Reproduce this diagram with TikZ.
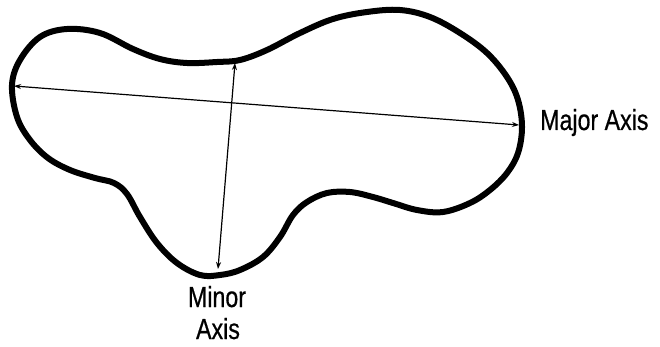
\documentclass[tikz,border=0pt]{standalone}
\usepackage{fontspec}
\setmainfont{Liberation Sans}[FakeStretch=0.8, FakeBold=0.6]
\usetikzlibrary{arrows.meta, positioning}

\begin{document}
\begin{tikzpicture}[
    x=1pt, y=-1pt,
    outline/.style={line width=6pt, line join=round},
    axisline/.style={line width=1.2pt, {Stealth[length=7pt,width=5pt]}-{Stealth[length=7pt,width=5pt]}},
    lbl/.style={font=\fontsize{29}{32}\selectfont, inner sep=0pt}
]
\useasboundingbox (0,0) rectangle (660,347);
\draw[outline] plot[smooth cycle, tension=0.6] coordinates {
  (12,85) (20,60) (40,37) (67,29) (100,33) (133,49) (160,59) (187,63)
  (217,62) (240,60) (267,50) (300,33) (333,19) (367,12) (400,10) (430,17)
  (460,33) (487,53) (507,77) (518,100) (522,127) (518,153) (507,173)
  (490,190) (470,203) (443,212) (417,210) (393,203) (373,197) (350,192)
  (327,193) (307,202) (293,215) (280,237) (263,257) (240,270) (220,275)
  (200,275) (177,263) (157,243) (140,217) (127,194) (114,183) (95,178)
  (70,170) (48,158) (30,140) (17,117)
};
% axis ends
\coordinate (majL) at (14,86);
\coordinate (majR) at (519,125);
\coordinate (minT) at (235,63);
\coordinate (minB) at (218,269);
\draw[axisline] (majL) -- (majR);
\draw[axisline] (minT) -- (minB);
% labels
\node[lbl, anchor=base west] (major) at (540,130) {Major Axis};
\node[lbl, anchor=base] (minor) at (217,307) {Minor};
\node[lbl, anchor=base] (axis) at (218,339) {Axis};
\end{tikzpicture}
\end{document}
